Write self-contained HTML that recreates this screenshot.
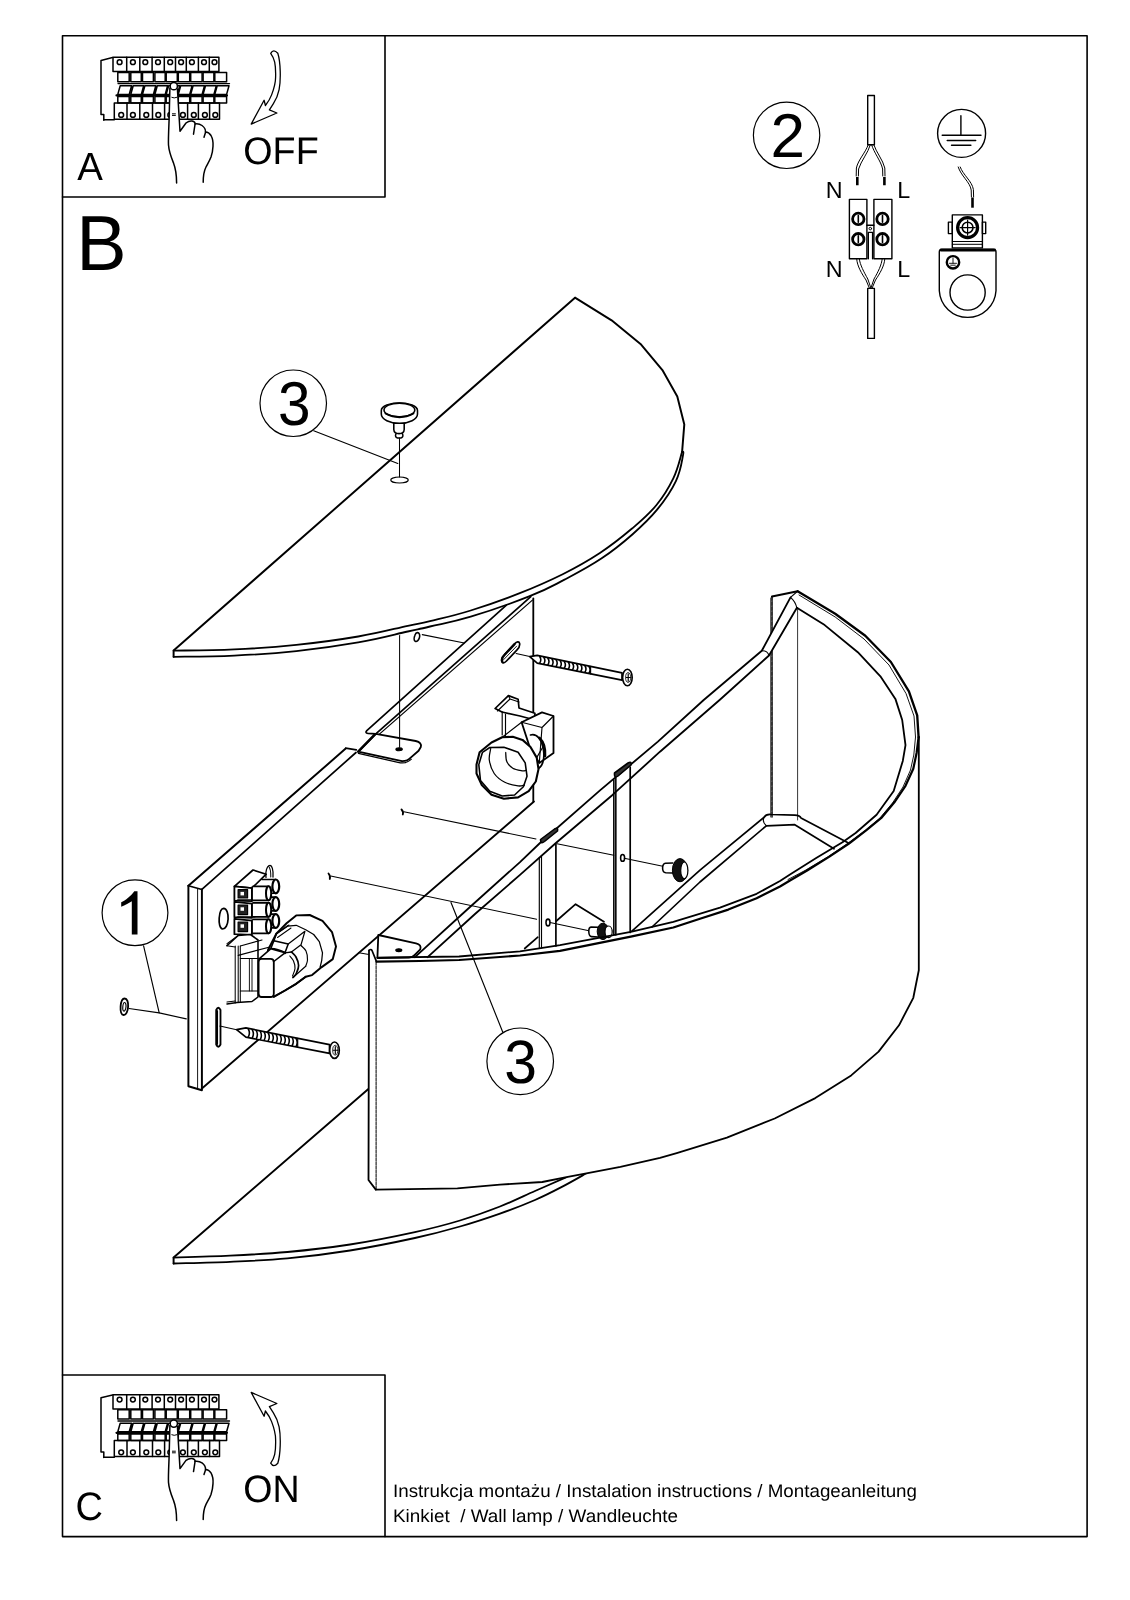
<!DOCTYPE html>
<html><head><meta charset="utf-8"><title>Wall lamp - installation instructions</title>
<style>
html,body{margin:0;padding:0;background:#fff;}
body{width:1130px;height:1600px;overflow:hidden;position:relative;}
svg{position:absolute;left:0;top:0;}
text{font-family:"Liberation Sans",sans-serif;fill:#000;stroke:none;}
</style></head>
<body>
<svg width="1130" height="1600" viewBox="0 0 1130 1600" fill="none" stroke="#000" stroke-linejoin="round" stroke-linecap="round" text-rendering="geometricPrecision" style="filter:grayscale(1)">
<defs>
<g id="hand">
<g id="panel" stroke-width="1.5">
<path d="M103.8 120.2V114.6H101V60.4L112.5 57.6"/>
<path d="M103.8 119.8H114.3"/>
<rect x="113" y="57.3" width="105.9" height="14.2"/>
<path d="M126.7 57.3V71.5 M139.8 57.3V71.5 M152.1 57.3V71.5 M164.3 57.3V71.5 M175.5 57.3V71.5 M186.3 57.3V71.5 M198.4 57.3V71.5 M209.3 57.3V71.5"/>
<circle cx="119.6" cy="62.2" r="2.4"/>
<circle cx="132.9" cy="62.2" r="2.4"/>
<circle cx="145.3" cy="62.2" r="2.4"/>
<circle cx="158" cy="62.2" r="2.4"/>
<circle cx="170.2" cy="62.2" r="2.4"/>
<circle cx="181.1" cy="62.2" r="2.4"/>
<circle cx="191.9" cy="62.2" r="2.4"/>
<circle cx="204" cy="62.2" r="2.4"/>
<circle cx="214.5" cy="62.2" r="2.4"/>
<rect x="117.8" y="72.4" width="11.4" height="9.3"/>
<rect x="117.8" y="96.6" width="11.4" height="6.5"/>
<rect x="130.8" y="72.4" width="10.5" height="9.3"/>
<rect x="130.8" y="96.6" width="10.5" height="6.5"/>
<rect x="142.5" y="72.4" width="10.9" height="9.3"/>
<rect x="142.5" y="96.6" width="10.9" height="6.5"/>
<rect x="154.9" y="72.4" width="10.3" height="9.3"/>
<rect x="154.9" y="96.6" width="10.3" height="6.5"/>
<rect x="166.2" y="72.4" width="11.1" height="9.3"/>
<rect x="166.2" y="96.6" width="11.1" height="6.5"/>
<rect x="178.3" y="72.4" width="11.4" height="9.3"/>
<rect x="178.3" y="96.6" width="11.4" height="6.5"/>
<rect x="190.7" y="72.4" width="11.4" height="9.3"/>
<rect x="190.7" y="96.6" width="11.4" height="6.5"/>
<rect x="203.1" y="72.4" width="10.8" height="9.3"/>
<rect x="203.1" y="96.6" width="10.8" height="6.5"/>
<rect x="214.8" y="72.4" width="11.8" height="9.3"/>
<rect x="214.8" y="96.6" width="11.8" height="6.5"/>
<path d="M118 83.6H229.5" stroke-width="1.4"/>
<path d="M120.2 85.8H131.6L129.2 94.4H117.8Z M133.2 85.8H143.7L141.3 94.4H130.8Z M144.9 85.8H155.8L153.4 94.4H142.5Z M157.3 85.8H167.6L165.2 94.4H154.9Z M168.6 85.8H179.7L177.3 94.4H166.2Z M180.7 85.8H192.1L189.7 94.4H178.3Z M193.1 85.8H204.5L202.1 94.4H190.7Z M205.5 85.8H216.3L213.9 94.4H203.1Z M217.2 85.8H229.0L226.6 94.4H214.8Z "/>
<path d="M116.5 95.4H227" stroke-width="2.2"/>
<rect x="114.3" y="103.1" width="105.2" height="16.1"/>
<path d="M127 103.1V119.2 M139.8 103.1V119.2 M152.5 103.1V119.2 M164.6 103.1V119.2 M176.1 103.1V119.2 M187.6 103.1V119.2 M198.4 103.1V119.2 M209.6 103.1V119.2"/>
<circle cx="121.2" cy="114.9" r="2.4"/>
<circle cx="132.9" cy="114.9" r="2.4"/>
<circle cx="146.3" cy="114.9" r="2.4"/>
<circle cx="158.3" cy="114.9" r="2.4"/>
<circle cx="170.3" cy="114.9" r="2.4"/>
<circle cx="182.9" cy="114.9" r="2.4"/>
<circle cx="193.8" cy="114.9" r="2.4"/>
<circle cx="204.9" cy="114.9" r="2.4"/>
<circle cx="215.3" cy="114.9" r="2.4"/>
</g>
<path fill="#fff" stroke="none" d="M169.9 88L169.1 120C168.6 132 168.2 140 168.5 145C169 152 171.5 158 173.5 163C175.8 169 176.6 175 176.6 183L203.2 182.2C203.2 174 204 171 206 167C207.5 164 209.5 161 211 157C212 154 212.8 151 213 146.2C213.3 142 212.7 138.5 211 135.5C209.5 133 207.5 132 205.5 132C205.8 129.5 204.5 127.3 202 125.5C200 124 197 123.6 195 123.9C195.5 122.8 194.5 121.6 192 121.1C190 120.8 188 121.5 186 123L180 131.2L177.4 88.9Z"/>
<g stroke-width="1.5">
<path d="M169.9 88L169.1 120C168.6 132 168.2 140 168.5 145C169 152 171.5 158 173.5 163C175.8 169 176.6 175 176.6 183"/>
<path d="M177.4 88.9L180 131.2L186 123C188 121.5 190 120.8 192 121.1C194.5 121.6 195.5 122.8 195 124.5L193.5 134.2"/>
<path d="M195 123.9C197 123.6 200 124 202 125.5C204.5 127.3 205.8 129.5 205.5 132.5L204 137.2"/>
<path d="M205.5 132C207.5 132 209.5 133 211 135.5C212.7 138.5 213.3 142 213 146.2C212.8 151 212 154 211 157C209.5 161 207.5 164 206 167C204 171 203.2 174 203.2 182.2"/>
<circle cx="173.8" cy="86.2" r="3.6" fill="#fff"/>
<path d="M171.8 97.4Q174.2 98.6 176.7 97.4M172.4 113.8H175.4M172.4 115.4H175.4" stroke-width="1"/>
</g>
</g>
<path id="arrow" d="M270.7 53.3Q273.5 48.5 277.8 53.3C280.6 62 281 80 279.1 89.6C277.8 96 275.5 100.5 273.4 103.7L269.4 109.9L276.9 113L251.2 124.1L264.1 100.2L265.4 105.5C268.5 101.5 270.5 98 271.6 94.9C274.2 88 275.6 82 275.6 77.2C275.8 70 275.5 66 274.7 62.1C273.8 58 272.3 55.5 270.7 53.3Z" stroke-width="1.3"/>
</defs>
<!-- frame -->
<g stroke-width="1.6">
<rect x="62.5" y="35.7" width="1024.6" height="1500.9"/>
<path d="M385 35.7V197H62.5"/>
<path d="M62.5 1375H385V1536.6"/>
</g>
<!-- box A / C -->
<use href="#hand"/>
<use href="#hand" transform="translate(0 1337.4)"/>
<use href="#arrow"/>
<use href="#arrow" transform="matrix(1 0 0 -1 0 1516.5)"/>
<text x="0" y="0" font-size="38.4" transform="translate(77.2 179.7) scale(1 1.022)">A</text>
<text x="0" y="0" font-size="38" transform="translate(75.4 1520.2) scale(1 1.043)">C</text>
<text x="0" y="0" font-size="37.7" transform="translate(243.3 163.7) scale(1 1.02)">OFF</text>
<text x="0" y="0" font-size="37.6" transform="translate(243.3 1502.2) scale(1 1.02)">ON</text>
<text x="76.3" y="270.3" font-size="75.5" transform="translate(0 270.3) scale(1 1.035) translate(0 -270.3)">B</text>
<!-- bottom caption -->
<text x="393" y="1497.3" font-size="18" textLength="524" lengthAdjust="spacingAndGlyphs">Instrukcja montażu / Instalation instructions / Montageanleitung</text>
<text x="393" y="1522.4" font-size="18" textLength="285" lengthAdjust="spacingAndGlyphs" xml:space="preserve">Kinkiet  / Wall lamp / Wandleuchte</text>
<g id="wiring" stroke-width="1.4">
<rect x="867.7" y="95.5" width="6.7" height="49.2"/>
<rect x="867.7" y="288.4" width="6.7" height="50"/>
<path d="M868.2 144.7C866 152 858 160 856.4 168L856.2 176M870.4 144.7C868 153 861 161 858.6 169L858.4 176" stroke-width="1"/>
<path d="M873.8 144.7C876 152 883 160 884.8 168L885 176M871.6 144.7C874 153 881 161 882.6 169L882.8 176" stroke-width="1"/>
<path d="M857.3 177V185.3M884.4 177V185.3" stroke-width="2.6" stroke-linecap="butt"/>
<rect x="849.4" y="199.4" width="17.5" height="59.4"/>
<rect x="873.9" y="199.4" width="18" height="59.4"/>
<path d="M866.9 225.2H873.9M868.3 258.8V232.4H872.6V258.8"/>
<circle cx="870.3" cy="228.6" r="1.3" stroke-width="1"/>
<g stroke-width="2.8"><circle cx="858.3" cy="218.9" r="5.7"/><circle cx="882.5" cy="218.9" r="5.7"/><circle cx="858.3" cy="239.2" r="5.7"/><circle cx="882.5" cy="239.2" r="5.7"/></g>
<path d="M858.3 215.6V222.2M882.5 215.6V222.2M858.3 235.9V242.5M882.5 235.9V242.5" stroke-width="1.6"/>
<path d="M856.7 258.8C857 266 862 274 866 280L869.5 288.4M859.3 258.8C860 265 864 272 867.8 279L871 288.4" stroke-width="1"/>
<path d="M884.8 258.8C884.5 266 879.5 274 875.5 280L872 288.4M882.2 258.8C881.6 265 878 272 874 279L870.8 288.4" stroke-width="1"/>
<circle cx="961.6" cy="133.4" r="24"/>
<path d="M960.9 115.8V135.2M942.2 135.2H981M947.2 140.5H975.7M951.5 145.2H970.9"/>
<path d="M958.2 167C961 176 970 182 971.2 190L971.4 197M960.2 167C963 175 972 181 973.4 189.5L973.6 197" stroke-width="1"/>
<path d="M972.5 197.5V207.7" stroke-width="2.6" stroke-linecap="butt"/>
<path d="M939.3 252V290.7A28.4 28.4 0 0 0 996 290.7V252Q996 249.4 993.4 249.4H941.9Q939.3 249.4 939.3 252Z"/>
<path d="M941 250H994.5" stroke-width="2.8"/>
<circle cx="967.6" cy="292.5" r="17.6"/>
<circle cx="953" cy="262.3" r="6.2" stroke-width="2.4"/>
<path d="M953 258.2V263.3M949.5 263.3H956.5M950.7 265.2H955.3" stroke-width="0.9"/>
<rect x="952.3" y="214.9" width="30.1" height="33"/>
<path d="M948.4 222.1H952.3V233.6H948.4ZM982.4 222.1H985.7V233.6H982.4Z"/>
<path d="M952.3 241.5H982.4M952.3 244.3H982.4" stroke-width="1"/>
<circle cx="967.6" cy="227.6" r="10" stroke-width="3.2"/>
<circle cx="967.6" cy="227.6" r="5.4" stroke-width="1.6"/>
<path d="M967.6 220V235.2M960 227.6H975.2" stroke-width="1.2"/>
</g>
<text x="825.8" y="197.8" font-size="23.3">N</text>
<text x="897.3" y="197.8" font-size="23.3">L</text>
<text x="825.8" y="276.7" font-size="23.3">N</text>
<text x="897.3" y="276.7" font-size="23.3">L</text>

<g id="main">
<path d="M368.2 1088.5L173.6 1257.6C183 1257.3 211 1256.5 230 1255.6C249 1254.7 267.4 1253.8 287.4 1252C307.4 1250.2 328.8 1247.8 350 1244.5C371.2 1241.2 396.6 1236.1 414.9 1232.1C433.2 1228.1 445.8 1224.8 460 1220.5C474.2 1216.2 487.5 1211.4 500 1206.5C512.5 1201.6 523.9 1195.9 535 1191C546.1 1186.1 561.2 1179.5 566.5 1177.2L600 1170L600 1100Z" stroke-width="0.0" fill="#fff" stroke="none"/>
<path d="M425 1040L173.6 1257.6V1263.5" stroke-width="1.95"/>
<path d="M173.6 1257.6C183 1257.3 211 1256.5 230 1255.6C249 1254.7 267.4 1253.8 287.4 1252C307.4 1250.2 328.8 1247.8 350 1244.5C371.2 1241.2 396.6 1236.1 414.9 1232.1C433.2 1228.1 445.8 1224.8 460 1220.5C474.2 1216.2 487.5 1211.4 500 1206.5C512.5 1201.6 523.9 1195.9 535 1191C546.1 1186.1 561.2 1179.5 566.5 1177.2" stroke-width="1.82"/>
<path d="M173.6 1263.5C183 1263.2 211 1262.6 230 1261.8C249 1261 267.4 1260.3 287.4 1258.4C307.4 1256.5 328.8 1253.9 350 1250.5C371.2 1247.1 396.6 1242 414.9 1238C433.2 1234 445.8 1230.6 460 1226.5C474.2 1222.4 487.5 1218 500 1213.6C512.5 1209.2 524.9 1204.4 535 1200C545.1 1195.6 552.3 1191.9 560.9 1187.4C569.5 1183 582.1 1175.7 586.4 1173.3" stroke-width="1.82"/>
<path d="M188.4 885.8L345.7 748.6L357.2 749L366.4 732.9L534 586L534 801L201.9 1088.5L188.4 1086.2Z" stroke-width="0.0" fill="#fff" stroke="none"/>
<path d="M188.4 885.8V1086.2L201.9 1090.2V889.4" stroke-width="1.95"/>
<path d="M197.6 888.6V1089.4" stroke-width="0.92"/>
<path d="M188.4 885.8L201.9 889.4" stroke-width="1.56"/>
<path d="M188.4 885.8L345.7 748.6" stroke-width="1.95"/>
<path d="M201.9 889.4L356 752.5" stroke-width="1.69"/>
<path d="M345.7 748.2L356.3 749.8" stroke-width="1.69"/>
<path d="M201.9 1088.5L534 801.5" stroke-width="1.82"/>
<path d="M223.7 908.3C226.8 908.3 228.4 914 228.1 919C227.8 925 225.5 929 222.6 929C219.8 928.5 218.8 923 219.2 918C219.6 912.5 221.2 908.4 223.7 908.3Z" stroke-width="1.69"/>
<path d="M216.2 1010Q218.3 1005.5 220.5 1010V1044.5Q218.3 1049 216.2 1044.5Z" stroke-width="1.82"/>
<path d="M217 1011V1044" stroke-width="2.08"/>
<path d="M219.9 1026L236.6 1029.7" stroke-width="1.03"/>
<path d="M236.6 1029.7L245.9 1027.9L329.5 1044.6L329.5 1053.3L245.9 1037.2Z" stroke-width="1.69" fill="#fff"/>
<path d="M248.3 1029Q250.5 1033 248.3 1037.1M252.3 1029.8Q254.5 1033.8 252.3 1037.8M256.3 1030.6Q258.5 1034.6 256.3 1038.6M260.3 1031.4Q262.5 1035.4 260.3 1039.4M264.2 1032.2Q266.4 1036.1 264.2 1040.1M268.2 1033Q270.4 1036.9 268.2 1040.9M272.2 1033.8Q274.4 1037.7 272.2 1041.7M276.2 1034.6Q278.4 1038.5 276.2 1042.4M280.2 1035.3Q282.4 1039.3 280.2 1043.2M284.2 1036.1Q286.4 1040.1 284.2 1044M288.2 1036.9Q290.4 1040.8 288.2 1044.7M292.2 1037.7Q294.4 1041.6 292.2 1045.5M296.1 1038.5Q298.3 1042.4 296.1 1046.3" stroke-width="1.56"/>
<path d="M297.7 1038.3L297.7 1047.2" stroke-width="1.15"/>
<ellipse cx="334.5" cy="1050.2" rx="4.8" ry="8.2" stroke-width="1.6" fill="#fff"/>
<ellipse cx="335.3" cy="1050.2" rx="2.6" ry="4.9" stroke-width="0.8" fill="#fff"/>
<path d="M335.3 1046.5V1053.9M333.3 1050.2H337.3" stroke-width="1.15"/>
<path d="M506.4 605.1L366.8 730.6Q364.6 733 368 733.4L375.8 733.9" stroke-width="1.69"/>
<path d="M375.8 733.9L530.8 596.7" stroke-width="1.69"/>
<path d="M379.7 733.9L532.4 600.1" stroke-width="1.26"/>
<path d="M375.8 733.9L415.7 741Q422.2 742.6 420.8 747L418.6 750.8L411 757.4Q407.5 761.3 402 761.2L358.2 751.7Z" stroke-width="1.82" fill="#fff"/>
<path d="M358.2 751.7L375.2 734.2" stroke-width="2.47"/>
<path d="M358.4 753.4L400.2 762.8Q406.5 763.6 411.2 759.4" stroke-width="1.26"/>
<path d="M399.1 749.2m-3.2 0a3.2 1.5 0 1 0 6.4 0a3.2 1.5 0 1 0 -6.4 0Z" stroke-width="1.15" fill="#000"/>
<path d="M533.3 598.4V713" stroke-width="1.82"/>
<path d="M533.3 782V801.5" stroke-width="1.82"/>
<path d="M399.6 635.4V747.2" stroke-width="1.03"/>
<path d="M417.3 632.6C419.5 632.6 420.2 635 419.4 637.8C418.6 640.6 416.6 642 415.3 641.3C413.9 640.5 414 637.5 414.9 635.2C415.5 633.5 416.3 632.6 417.3 632.6Z" stroke-width="1.56"/>
<path d="M422.3 634.6L464.3 643" stroke-width="1.15"/>
<path d="M502.5 662.5C500.8 661 501.5 657.5 504 655L514.5 643.8C516.6 641.6 519.2 641.2 519.6 643.4C520 645.6 518.8 648.2 516.8 650.2L506.5 661C505 662.6 503.6 663.4 502.5 662.5Z" stroke-width="1.69"/>
<path d="M502.3 661.5C501.5 659 502.5 657 504.5 655L514.5 644.3" stroke-width="2.34"/>
<path d="M503.8 659.5L516.6 646.2" stroke-width="0.92"/>
<path d="M516.1 653.5L529.7 656.6" stroke-width="1.03"/>
<path d="M529.7 656.6L537.2 655.4L622 672.8L622 680.2L537.2 663.2Z" stroke-width="1.69" fill="#fff"/>
<path d="M539.7 656.5Q541.9 659.8 539.7 663.1M543.8 657.3Q546 660.6 543.8 663.9M547.9 658.2Q550.1 661.5 547.9 664.7M552 659Q554.2 662.3 552 665.6M556.1 659.9Q558.3 663.1 556.1 666.4M560.2 660.7Q562.4 664 560.2 667.2M564.3 661.6Q566.5 664.8 564.3 668M568.4 662.4Q570.6 665.6 568.4 668.9M572.5 663.3Q574.7 666.5 572.5 669.7M576.7 664.1Q578.9 667.3 576.7 670.5M580.8 664.9Q583 668.1 580.8 671.3M584.9 665.8Q587.1 669 584.9 672.2M589 666.6Q591.2 669.8 589 673" stroke-width="1.56"/>
<path d="M590.6 666.4L590.6 673.9" stroke-width="1.15"/>
<ellipse cx="627.4" cy="677.5" rx="4.8" ry="8.2" stroke-width="1.6" fill="#fff"/>
<ellipse cx="628.2" cy="677.5" rx="2.6" ry="4.9" stroke-width="0.8" fill="#fff"/>
<path d="M628.2 673.8V681.2M626.2 677.5H630.2" stroke-width="1.15"/>
<path d="M772 596.5V817" stroke-width="1.56" stroke-dasharray="4 1"/>
<path d="M770.6 598V817" stroke-width="0.69"/>
<path d="M797.6 607.8V820" stroke-width="0.8"/>
<path d="M772 596.5L797.6 591.3" stroke-width="2.08"/>
<path d="M414.9 957.2 L470 907 L520 862.1 L540 843 L600 790.4 L657.9 741.6 L703.7 700 L761.8 650.8 L790.5 597.4 L796.9 607.8 L769 655.5 L719.6 700 L660 751.7 L612.2 795.2 L555.9 843 L520 874.9 L475 914 L427.6 957.2Z" stroke-width="0.0" fill="#fff" stroke="none"/>
<path d="M414.9 957.2 L470 907 L520 862.1 L540 843 L600 790.4 L657.9 741.6 L703.7 700 L761.8 650.8L790.5 597.4" stroke-width="1.82"/>
<path d="M427.6 957.2 L475 914 L520 874.9 L555.9 843 L612.2 795.2 L660 751.7 L719.6 700 L769 655.5L796.9 607.8" stroke-width="1.82"/>
<path d="M761.8 650.8Q767.5 650.5 769 655.5" stroke-width="1.15"/>
<path d="M790.5 597.4L797.6 591.3M790.5 597.4Q795 601 796.9 607.8" stroke-width="1.15"/>
<path d="M631.9 931.1L700 870.1L763.9 817.5Q766 814 771 814.5L794.8 815.2Q800 815.5 801 818L848 842.8" stroke-width="1.69"/>
<path d="M652 927L700 882L766.3 825.8L794.8 824.7L834 848.8" stroke-width="1.69"/>
<path d="M763.9 817.5Q762 822 766.3 825.8" stroke-width="1.15"/>
<path d="M539.3 858V948.5M541.5 856V948" stroke-width="1.15"/>
<path d="M555.9 844V946" stroke-width="1.69"/>
<path d="M613.8 779.5V935M615.8 778V935" stroke-width="1.15"/>
<path d="M630.2 767V932.5" stroke-width="1.69"/>
<path d="M540.5 839.5L554.5 829Q558.5 827 557.5 831L544.5 841.5Q540.5 844.5 540.5 839.5Z" stroke-width="1.56" fill="#333"/>
<path d="M614.5 773L628 763Q632 761 631 765L618 776Q614 779 614.5 773Z" stroke-width="1.56" fill="#333"/>
<path d="M548 922.5m-2 0a2 3.4 0 1 0 4 0a2 3.4 0 1 0 -4 0" stroke-width="1.56"/>
<path d="M622.6 857.9m-2 0a2 3.4 0 1 0 4 0a2 3.4 0 1 0 -4 0" stroke-width="1.56"/>
<path d="M556.3 921L575.6 904.2L604 921.8" stroke-width="1.69"/>
<path d="M537.8 937.2L524.7 948.5" stroke-width="1.69"/>
<path d="M403.9 811.8L536 839" stroke-width="1.03"/>
<path d="M557 843.7L613.8 855.3" stroke-width="1.03"/>
<path d="M624.2 858.2L664 866.5" stroke-width="1.03"/>
<path d="M330.7 876.1L536.6 919.3" stroke-width="1.03"/>
<path d="M550 922.5L589 930.8" stroke-width="1.03"/>
<path d="M401.5 809.5Q403.8 811.8 402.8 814.5" stroke-width="1.82"/>
<path d="M328.5 873.5Q330.7 876.1 329.8 879" stroke-width="1.82"/>
<path d="M672.8 863L665.5 863.2Q662.6 863.6 662.6 868Q662.6 872.5 665.8 872.8L672.8 873" stroke-width="1.56" fill="#fff"/>
<ellipse cx="680" cy="870.2" rx="7.6" ry="11.6" fill="#111" stroke="#000" stroke-width="1"/>
<ellipse cx="684.3" cy="870.4" rx="3.6" ry="8.4" fill="#fff" stroke="#000" stroke-width="1.2"/>
<path d="M598.7 927.2L591 927.1Q588.6 927.3 588.8 931.8Q589 936.5 591.5 936.6L598 937" stroke-width="1.56" fill="#fff"/>
<ellipse cx="603" cy="931.4" rx="5.8" ry="8.2" fill="#111" stroke="#000" stroke-width="1"/>
<ellipse cx="608.6" cy="931.8" rx="3.6" ry="5.8" fill="#fff" stroke="#000" stroke-width="1.2"/>
<path d="M613.8 779.5V935M615.8 778V935" stroke-width="1.15"/>
<path d="M629.5 929.9L680 887.4" stroke-width="0.01"/>
<path d="M378.3 935L416 943.4Q421.8 944.8 420.3 949.3L414.5 955.2Q412.5 957.5 409 957.5L377.4 958Z" stroke-width="1.82" fill="#fff"/>
<path d="M398.8 950.2m-3 0a3 1.4 0 1 0 6 0a3 1.4 0 1 0 -6 0Z" stroke-width="1.15" fill="#000"/>
<path d="M358.8 952.7L369 954.5" stroke-width="1.15"/>
<path d="M918.6 737.2 L916.6 753 L913.3 768.7 L905.5 785.8 L895 801.5 L881.9 817.3 L866.1 830.4 L849 843.5 L829.4 856.6 L807.1 870.5 L790 880.5 L780 886.5 L756.6 898.2 L728.3 909.6 L700 918.8 L673.3 927.5 L630.8 936.7 L560 950.9 L520 955.5 L459.1 960 L420 961 L376.5 961.6L371.2 949.6L369 950.5L368.5 1180L375.8 1189.6L457.4 1188.3 L500 1184.6 L542.3 1182 L566.5 1177.1 L586.4 1173.3 L620.4 1166.9 L660 1157.9 L676.7 1153.1 L726.9 1137.6 L774.7 1118.5 L815.3 1098.1 L851.2 1075.4 L878.6 1051.6 L899 1025.3 L913.3 997.8 L918.8 970.3Z" stroke-width="0.0" fill="#fff" stroke="none"/>
<path d="M918.6 737.2 L916.6 753 L913.3 768.7 L905.5 785.8 L895 801.5 L881.9 817.3 L866.1 830.4 L849 843.5 L829.4 856.6 L807.1 870.5 L790 880.5 L780 886.5 L756.6 898.2 L728.3 909.6 L700 918.8 L673.3 927.5 L630.8 936.7 L560 950.9 L520 955.5 L459.1 960 L420 961 L376.5 961.6" stroke-width="2.21"/>
<path d="M375.8 1189.6 L457.4 1188.3 L500 1184.6 L542.3 1182 L566.5 1177.1 L586.4 1173.3 L620.4 1166.9 L660 1157.9 L676.7 1153.1 L726.9 1137.6 L774.7 1118.5 L815.3 1098.1 L851.2 1075.4 L878.6 1051.6 L899 1025.3 L913.3 997.8 L918.8 970.3L918.8 737" stroke-width="1.82"/>
<path d="M369 950.5L368.5 1180L375.8 1189.6" stroke-width="1.82"/>
<path d="M376.1 962V1189" stroke-width="1.03" stroke-dasharray="3 1"/>
<path d="M369 950.5Q371 948.5 372 950.5L376.5 961.6" stroke-width="1.69"/>
<path d="M797.6 591.3 L835.2 613.8 L865.3 635.7 L890.9 662 L908.9 691.3 L917.2 715.4 L918.6 737.2" stroke-width="2.34"/>
<path d="M799 595 L835.2 617 L864 639 L889 665 L906 693.5 L914 716 L915.5 737 L913.8 755 L910.5 770 L903 787 L892.5 803 L879.5 818.5 L864 831.5 L847 844 L827.5 857 L805 870.5 L788 879.5" stroke-width="0.92"/>
<path d="M796.9 607.8 L824.7 625.1 L857.8 652.2 L880.4 676.3 L895.4 698.9 L902.2 720 L905.5 745.1 L902.8 760.9 L893.7 791 L876.6 814.7 L855.6 833 L842.5 842.2 L816.2 858 L790 874.5 L780 881 L756.6 893.8 L720 907.7 L673.3 921.9 L630.8 931.8 L560 945.2 L520 951.3 L459.1 956.5 L377.4 957.6" stroke-width="1.82"/>
<path d="M495.1 708.5L508.4 695.6L518.1 699.2L519 708L534.9 713.3L534.9 720L520 716L502 712Z" stroke-width="1.69" fill="#fff"/>
<path d="M497.5 711L510 699M508.4 695.6L510 699L519 702" stroke-width="1.15"/>
<path d="M502.2 711.5V735M505.5 714V736.5" stroke-width="1.15"/>
<path d="M521.6 722.2L542 712.4L553.5 716V753.1L539.3 762.9L530 748L521.6 722.2Z" stroke-width="1.82" fill="#fff"/>
<path d="M542 727.5L553.5 716M542 727.5L539.3 762.9M521.6 722.2L542 727.5" stroke-width="1.15"/>
<path d="M530.5 735C537 733 542 740 543.5 750C545 760 542 768 536.7 769" stroke-width="1.69"/>
<path d="M539.5 738C543.5 742 545.5 749 545 756" stroke-width="2.6"/>
<path d="M502.2 737.2L521.6 722.2M536.7 757.6L544 745" stroke-width="1.15"/>
<path d="M476.5 764.6 L479.6 752.3 L491.5 742.5 L502.2 737.2 L512.8 736.8 L522.5 739.9 L530.5 747 L536.7 757.6 L538.5 769.1 L535.8 781.5 L528.7 791.2 L518.1 797.4 L503.9 798.7 L491.5 794.7 L481.8 785 L476.5 773.5Z" stroke-width="2.08" fill="#fff"/>
<path d="M482.5 752.3 L489.8 747.5 L503.9 747.2 L518.1 752.3 L525.2 762.9 L527 776.2 L523.4 786.8 L514.6 795 L502.2 796 L489.8 791.2 L480.5 780.6 L478.8 764.6Z" stroke-width="1.56"/>
<path d="M490.7 748.5C490.5 750.4 488.7 755.8 489.3 760C489.9 764.2 491.6 769.8 494.2 773.5C496.8 777.2 500.8 780.2 504.8 782.3C508.8 784.4 514.8 785.4 518.1 785.9C521.4 786.4 523.4 785.1 524.5 785" stroke-width="1.26"/>
<path d="M505.7 752.5C505.9 754 505.6 758.9 506.8 761.5C508 764.1 510.2 766.7 512.8 768.2C515.4 769.8 520.4 770.4 522.5 770.8C524.6 771.2 525 770.5 525.5 770.5" stroke-width="1.26"/>
<path d="M266 877.5C265 872 267 866 269.5 865.5C272 865 273.5 870 273 877" stroke-width="1.26"/>
<path d="M268.5 866C270 868 271 872 270.8 877" stroke-width="1.03"/>
<path d="M262 879.5H275.8V893.3H262Z" stroke-width="0.0" fill="#fff" stroke="none"/>
<path d="M262 879.5H275.8M262 893.3H275.8" stroke-width="1.56"/>
<ellipse cx="275.8" cy="886.4" rx="3.4" ry="6.9" stroke-width="2.2" fill="#fff"/>
<path d="M262 897.1H275.8V910.9H262Z" stroke-width="0.0" fill="#fff" stroke="none"/>
<path d="M262 897.1H275.8M262 910.9H275.8" stroke-width="1.56"/>
<ellipse cx="275.8" cy="904" rx="3.4" ry="6.9" stroke-width="2.2" fill="#fff"/>
<path d="M262 914.1H275.8V927.9H262Z" stroke-width="0.0" fill="#fff" stroke="none"/>
<path d="M262 914.1H275.8M262 927.9H275.8" stroke-width="1.56"/>
<ellipse cx="275.8" cy="921" rx="3.4" ry="6.9" stroke-width="2.2" fill="#fff"/>
<path d="M234.4 886.4L253 870L266.2 874.2L251.9 888.2Z" stroke-width="1.69" fill="#fff"/>
<path d="M234.4 886.4L251.9 888.2V901.2L234.4 900.6Z" stroke-width="1.82" fill="#fff"/>
<path d="M238.1 889.6H247.6V898H238.1Z" stroke-width="1.15" fill="#222"/>
<path d="M240.5 891.9h3.5v3.5h-3.5Z" stroke-width="0.01" fill="#fff" stroke="none"/>
<path d="M234.4 901.8L251.9 903.6V917.8L234.4 917.2Z" stroke-width="1.82" fill="#fff"/>
<path d="M234.4 901.8L238 899.8H255" stroke-width="1.15"/>
<path d="M238.1 905H247.6V914.6H238.1Z" stroke-width="1.15" fill="#222"/>
<path d="M240.5 907.3h3.5v3.5h-3.5Z" stroke-width="0.01" fill="#fff" stroke="none"/>
<path d="M234.4 918.8L251.9 920.6V934.8L234.4 934.2Z" stroke-width="1.82" fill="#fff"/>
<path d="M234.4 918.8L238 916.8H255" stroke-width="1.15"/>
<path d="M238.1 922H247.6V931.6H238.1Z" stroke-width="1.15" fill="#222"/>
<path d="M240.5 924.3h3.5v3.5h-3.5Z" stroke-width="0.01" fill="#fff" stroke="none"/>
<path d="M253 886.3H268.6V900.3H253Z" stroke-width="0.0" fill="#fff" stroke="none"/>
<path d="M253 886.3H268.6M253 900.3H268.6" stroke-width="1.69"/>
<ellipse cx="268.6" cy="893.3" rx="2.6" ry="7" stroke-width="2" fill="#fff"/>
<path d="M252 886.8V900.3" stroke-width="1.15"/>
<path d="M253 902.8H268.6V916.8H253Z" stroke-width="0.0" fill="#fff" stroke="none"/>
<path d="M253 902.8H268.6M253 916.8H268.6" stroke-width="1.69"/>
<ellipse cx="268.6" cy="909.8" rx="2.6" ry="7" stroke-width="2" fill="#fff"/>
<path d="M252 903.3V916.8" stroke-width="1.15"/>
<path d="M253 919.3H268.6V933.3H253Z" stroke-width="0.0" fill="#fff" stroke="none"/>
<path d="M253 919.3H268.6M253 933.3H268.6" stroke-width="1.69"/>
<ellipse cx="268.6" cy="926.3" rx="2.6" ry="7" stroke-width="2" fill="#fff"/>
<path d="M252 919.8V933.3" stroke-width="1.15"/>
<path d="M227 945.7L238.2 935.5L250.4 934.5L258 940V997L252 1001.5L237 1002.5L227 1004" stroke-width="1.56" fill="#fff"/>
<path d="M227 943.7L238.2 935.5M235.2 946V1003M238.2 946V1002.5M240.3 946V1002" stroke-width="1.03"/>
<path d="M227 945.7L235.2 947M227 1002L235.2 1001" stroke-width="1.15"/>
<path d="M240.3 958.5H258M240.3 991H258" stroke-width="1.03"/>
<path d="M249.4 958.5V991M252 958.5V991" stroke-width="0.92"/>
<path d="M238.2 955.4L270.8 946.7M240.3 946L262 940" stroke-width="1.15"/>
<path d="M276.3 933.7 L286.6 923.3 L296.2 915.4 L309.7 915 L322.5 920.9 L332 932.1 L336 946.4 L332.8 959.1 L321.7 967.1 L312.1 975.1 L305.7 976.7 L296.2 983.8 L285 990.5 L274 996.5 L266 990 L268 950Z" stroke-width="1.95" fill="#fff"/>
<path d="M287.4 926.1 L296.2 925.3 L305.7 929.7 L313.7 934.5 L319.3 941.6 L322.5 952.8 L321.7 960.7 L320.1 967.1" stroke-width="1.26"/>
<path d="M273.8 997L285 990.5L296.2 983.8L305.7 976.7" stroke-width="1.69"/>
<path d="M270.7 948.8L285 952.8L288.2 944L273.9 940.8Z" stroke-width="1.56" fill="#fff"/>
<path d="M288.2 944L304.9 931.3L301 944.8L291.4 952L285 952.8" stroke-width="1.26"/>
<path d="M273.9 940.8L276.3 933.7L287.4 926.1" stroke-width="1.56"/>
<path d="M275.5 934.5L289 925M277.5 937.5L291 928" stroke-width="1.03"/>
<path d="M270.7 948.8Q278 949 285 953" stroke-width="2.34"/>
<path d="M258.8 959.1L273.1 962L285 952.8L270.7 948.8Z" stroke-width="1.56" fill="#fff"/>
<path d="M261.5 958.8H270.5Q273.8 958.8 273.8 962.2V993.5Q273.8 997 270.5 997H261.5Q258.6 997 258.6 993.5V962Q258.6 958.8 261.5 958.8Z" stroke-width="1.82" fill="#fff"/>
<path d="M291.4 952C292.2 952.8 294.8 954.8 296 957C297.2 959.2 298.5 962.8 298.6 965.5C298.7 968.2 297.4 971 296.5 973C295.6 975 293.6 976.8 293 977.5" stroke-width="1.69"/>
<path d="M289.8 956C290.4 956.8 292.6 958.9 293.5 961C294.4 963.1 295.2 966 295 968.5C294.8 971 292.9 974.8 292.5 976" stroke-width="1.15"/>
<path d="M301 945.5C301.8 946.4 304.9 948.6 306 951C307.1 953.4 307.6 957.5 307.5 960C307.4 962.5 306 965.2 305.7 966.3" stroke-width="1.15"/>
<path d="M305.7 966.3L293 977.5" stroke-width="1.15"/>
<path d="M575 297.7 L611.6 320.3 L640.5 343.9 L662.4 370.1 L677.3 396.4 L684.3 424.4 L682.1 451.9L683 455.4 L675.9 481.1 L657.3 509.4 L632.6 534.2 L601.7 558.3 L564.5 579.6 L529.1 596.4 L470.7 616.7 L430 626.5 L407.8 631.5 L358.2 642.4 L296.3 651.1 L234.3 655.6 L173.6 656.8L173.6 650.6Z" stroke-width="0.0" fill="#fff" stroke="none"/>
<path d="M575 297.7L173.6 650.6V656.8" stroke-width="1.95"/>
<path d="M575 297.7 L611.6 320.3 L640.5 343.9 L662.4 370.1 L677.3 396.4 L684.3 424.4 L682.1 451.9" stroke-width="1.95"/>
<path d="M682.1 451.9C680.3 457.2 678.4 467.8 673.3 478.4C668.2 489 664.8 494.9 656.5 505C648.2 515.1 643 519.2 631.7 528.8C620.4 538.4 613.7 543.9 599.9 553C586.1 562.1 579 566.1 562.7 574.2C546.4 582.3 536.9 586.4 518.5 593.7C500.1 601 488.4 605 470.7 610.5C453 616 442.6 618.1 430 621.2C417.4 624.3 422.2 622.7 407.8 625.8C393.4 628.9 380.5 632.7 358.2 636.5C335.9 640.3 321.1 642.3 296.3 644.9C271.5 647.5 258.8 648.3 234.3 649.4C209.8 650.5 185.7 650.4 173.6 650.6" stroke-width="1.82"/>
<path d="M682.1 451.9C682.3 452.6 684.2 449.6 683 455.4C681.8 461.2 681 470.3 675.9 481.1C670.8 491.9 666 498.8 657.3 509.4C648.6 520 643.7 524.4 632.6 534.2C621.5 544 615.3 549.2 601.7 558.3C588.1 567.4 579 572 564.5 579.6C550 587.2 547.9 589 529.1 596.4C510.3 603.8 490.5 610.7 470.7 616.7C450.9 622.7 442.6 623.5 430 626.5C417.4 629.5 422.2 628.3 407.8 631.5C393.4 634.7 380.5 638.5 358.2 642.4C335.9 646.3 321.1 648.5 296.3 651.1C271.5 653.7 258.8 654.5 234.3 655.6C209.8 656.7 185.7 656.6 173.6 656.8" stroke-width="1.82"/>
<ellipse cx="399.2" cy="435.4" rx="3.7" ry="2.6" stroke-width="1.5" fill="#fff"/>
<path d="M393.8 422V429.5Q394 433.6 399 433.6Q404 433.6 404.2 429.5V422" stroke-width="1.56" fill="#fff"/>
<path d="M381.3 410.5C381.3 406 390 403 399.5 403C409 403 417.5 406 417.5 410.5V414C417.5 419.5 409 423.3 399.5 423.3C390 423.3 381.3 419.5 381.3 414Z" stroke-width="1.56" fill="#fff"/>
<ellipse cx="399.4" cy="410" rx="15.4" ry="6.9" stroke-width="1.6" fill="#fff"/>
<path d="M385.5 413.5Q399.6 421 413.5 413.5" stroke-width="1.82"/>
<path d="M399.5 438V477" stroke-width="1.03"/>
<ellipse cx="399.5" cy="480" rx="8.75" ry="3" stroke-width="1.2"/>
<path d="M313.7 430.8L397.8 463.5" stroke-width="1.15"/>
<path d="M143.6 945.8L159.2 1012.9L186.3 1018.9" stroke-width="1.15"/>
<path d="M129 1008.5L159.2 1012.9" stroke-width="1.15"/>
<path d="M502.7 1032L451 902.5" stroke-width="1.15"/>
<path d="M124.6 998.5c2.6 0 3.8 3.8 3.5 8.2-.3 4.4-2 8.5-4.4 8.3-2.4-.2-3.4-4-3.1-8.4.3-4.4 1.6-8.1 4-8.1Z" stroke-width="1.82"/>
<path d="M124.6 1002.5c1 0 1.6 1.8 1.4 4.2-.2 2.4-1 4.5-2 4.4-1-.1-1.4-2-1.2-4.3.2-2.4.8-4.3 1.8-4.3Z" stroke-width="1.15"/>
</g>
<!-- callouts -->
<g stroke-width="1.2">
<circle cx="786.6" cy="135.3" r="33.2"/>
<circle cx="293.25" cy="403.25" r="33.25"/>
<circle cx="135" cy="912.75" r="32.9"/>
<circle cx="520.2" cy="1061.3" r="33.3"/>
</g>
<text x="0" y="0" font-size="62" transform="translate(770.4 157.4)">2</text>
<text x="0" y="0" font-size="60" transform="translate(277.95 424.9) scale(0.976 1.035)">3</text>
<path d="M137.5 891.2V934.4H131.8V901.2C129.5 902.8 125 905.3 121.2 906.8V902.2C125.5 900.3 131 896 134.3 891.2Z" fill="#000" stroke="none"/>
<text x="0" y="0" font-size="60" transform="translate(504.3 1082.7) scale(0.98 1.02)">3</text>
</svg>
</body></html>
